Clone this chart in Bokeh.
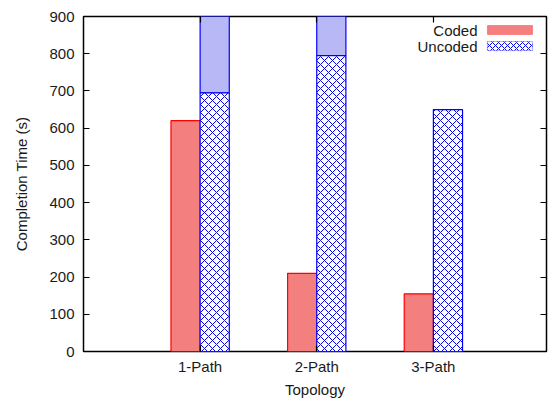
from bokeh.plotting import figure
from bokeh.models import (Range1d, FixedTicker, LinearAxis, ColumnDataSource,
                          Label, BoxAnnotation)
from bokeh.embed import file_html
from bokeh.resources import INLINE

# Completion time per topology (seconds)
topologies = ["1-Path", "2-Path", "3-Path"]
coded = [620, 210, 155]
uncoded = [695, 795, 650]
# runs that did not finish within the time limit (drawn up to the axis ceiling)
uncoded_unfinished = [True, True, False]
y_ticks = [0, 100, 200, 300, 400, 500, 600, 700, 800, 900]
y_max = 900

FONT = "Liberation Sans"
FONT_SIZE = "15px"
TEXT_COLOR = "#1a1a1a"
BAR_W = 0.25
RED_FILL = "#f47f7f"
RED_LINE = "#ff0000"
BLUE = "#0000ff"
LIGHT_BLUE = "#b8b8f6"

xs = list(range(1, len(topologies) + 1))

p = figure(width=550, height=400, output_backend="svg", toolbar_location=None,
           x_range=Range1d(0, 3.97), y_range=Range1d(0, y_max),
           min_border_left=83, min_border_right=4, min_border_top=16,
           min_border_bottom=49)
p.outline_line_color = "black"
p.outline_line_width = 1.5
p.xgrid.visible = False
p.ygrid.visible = False
p.background_fill_color = "white"
p.border_fill_color = "white"

coded_src = ColumnDataSource(dict(
    left=[x - BAR_W for x in xs], right=xs, top=coded))
p.quad(left="left", right="right", bottom=0, top="top", source=coded_src,
       fill_color=RED_FILL, line_color=RED_LINE, line_width=1.2)

# unfinished part of the uncoded runs, above the measured time
over = [(x, u) for x, u, f in zip(xs, uncoded, uncoded_unfinished) if f]
over_src = ColumnDataSource(dict(
    left=[x for x, _ in over], right=[x + BAR_W for x, _ in over],
    bottom=[u for _, u in over], top=[y_max for _ in over]))
p.quad(left="left", right="right", bottom="bottom", top="top", source=over_src,
       fill_color=LIGHT_BLUE, line_color=BLUE, line_width=1.2)

uncoded_src = ColumnDataSource(dict(
    left=xs, right=[x + BAR_W for x in xs], top=uncoded))
p.quad(left="left", right="right", bottom=0, top="top", source=uncoded_src,
       fill_color="white", line_color=BLUE, line_width=1.2,
       hatch_pattern="diagonal_cross", hatch_color=BLUE, hatch_scale=8,
       hatch_weight=1)


def style_axis(ax):
    ax.major_tick_in = 6
    ax.major_tick_out = 0
    ax.minor_tick_in = 0
    ax.minor_tick_out = 0
    ax.axis_line_color = None
    ax.major_tick_line_color = "black"
    ax.major_tick_line_width = 1.2
    ax.major_label_text_font = FONT
    ax.major_label_text_font_size = FONT_SIZE
    ax.major_label_text_color = TEXT_COLOR
    ax.axis_label_text_font = FONT
    ax.axis_label_text_font_size = FONT_SIZE
    ax.axis_label_text_font_style = "normal"
    ax.axis_label_text_color = TEXT_COLOR


p.xaxis.ticker = FixedTicker(ticks=xs)
p.xaxis.major_label_overrides = {x: t for x, t in zip(xs, topologies)}
p.xaxis.axis_label = "Topology"
p.xaxis.axis_label_standoff = 3
p.xaxis.major_label_standoff = 6
style_axis(p.xaxis[0])

p.yaxis.ticker = FixedTicker(ticks=y_ticks)
p.yaxis.axis_label = "Completion Time (s)"
p.yaxis.axis_label_standoff = 16
p.yaxis.major_label_standoff = 9
style_axis(p.yaxis[0])

# mirrored tick marks on the top and right edges of the frame
top_ax = LinearAxis(ticker=FixedTicker(ticks=xs),
                    major_label_overrides={x: "" for x in xs})
style_axis(top_ax)
top_ax.major_label_standoff = 0
p.add_layout(top_ax, "above")

right_ax = LinearAxis(ticker=FixedTicker(ticks=y_ticks),
                      major_label_overrides={t: "" for t in y_ticks})
style_axis(right_ax)
right_ax.major_label_standoff = 0
p.add_layout(right_ax, "right")

# key in the upper right corner: label on the left, sample on the right
# (screen positions are measured from the frame's lower-left corner)
key = [("Coded", dict(fill_color=RED_FILL, line_color=RED_LINE)),
       ("Uncoded", dict(fill_color="white", line_color=BLUE,
                        hatch_pattern="diagonal_cross", hatch_color=BLUE,
                        hatch_scale=6, hatch_weight=1))]
for i, (name, style) in enumerate(key):
    cy = 321.5 - i * 16
    p.add_layout(Label(x=394, y=cy, x_units="screen", y_units="screen",
                       text=name, text_align="right", text_baseline="middle",
                       text_font=FONT, text_font_size=FONT_SIZE,
                       text_color=TEXT_COLOR))
    p.add_layout(BoxAnnotation(left=404, right=449, bottom=cy - 4.5,
                               top=cy + 4.5,
                               left_units="screen", right_units="screen",
                               bottom_units="screen", top_units="screen",
                               fill_alpha=1, line_width=1.2, **style))

open("out.html", "w").write(file_html(p, INLINE))
